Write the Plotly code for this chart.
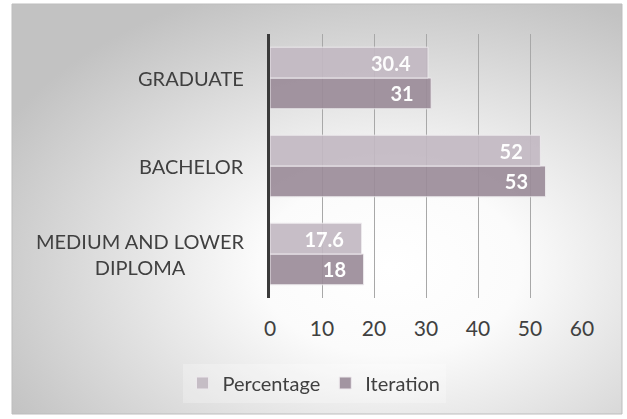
import base64
import plotly.graph_objects as go

categories = ["MEDIUM AND LOWER<br>DIPLOMA", "BACHELOR", "GRADUATE"]
percentage = [17.6, 52, 30.4]
iteration = [18, 53, 31]
x_ticks = [0, 10, 20, 30, 40, 50, 60]

W, H = 627, 419
L, R, T, B = 270, 582, 34, 298
pw, ph = R - L, B - T

def px_x(p):
    return (p - L) / pw

def px_y(p):
    return 1 - (p - T) / ph

svg = """<svg xmlns='http://www.w3.org/2000/svg' width='610' height='410' viewBox='0 0 610 410' preserveAspectRatio='none'>
<defs><radialGradient id='g' cx='0.62' cy='0.64' r='0.72' fx='0.62' fy='0.64'>
<stop offset='0' stop-color='#ffffff'/><stop offset='0.3' stop-color='#fbfbfb'/>
<stop offset='1' stop-color='#c2c2c2'/></radialGradient></defs>
<rect x='0' y='0' width='610' height='410' fill='url(#g)'/></svg>"""
src = "data:image/svg+xml;base64," + base64.b64encode(svg.encode()).decode()

font_main = "Lato, 'Open Sans', sans-serif"

fig = go.Figure()
fig.add_trace(go.Bar(
    y=categories, x=iteration, name="Iteration", orientation="h",
    marker=dict(color="#9b8c99", line=dict(color="#ece8ec", width=1)),
    opacity=0.92,
    text=iteration, texttemplate="%{x}\u00a0\u00a0\u00a0", textposition="inside",
    insidetextanchor="end", textangle=0,
    textfont=dict(color="white", size=20, family=font_main, weight="bold"),
))
fig.add_trace(go.Bar(
    y=categories, x=percentage, name="Percentage", orientation="h",
    marker=dict(color="#c2b9c2", line=dict(color="#ece8ec", width=1)),
    opacity=0.92,
    text=percentage, texttemplate="%{x}\u00a0\u00a0\u00a0", textposition="inside",
    insidetextanchor="end", textangle=0,
    textfont=dict(color="white", size=20, family=font_main, weight="bold"),
))

annotations = []
for c in categories:
    annotations.append(dict(
        x=px_x(246), xref="paper", y=c, yref="y", text=c, showarrow=False,
        xanchor="right", yanchor="middle", align="center",
        font=dict(size=20, color="#404040", family=font_main),
    ))

fig.update_layout(
    width=W, height=H,
    margin=dict(l=L, r=W - R, t=T, b=H - B),
    paper_bgcolor="white", plot_bgcolor="rgba(0,0,0,0)",
    barmode="group", bargap=0.3, bargroupgap=0.0,
    font=dict(family=font_main, color="#404040"),
    showlegend=True,
    legend=dict(
        orientation="h", traceorder="reversed",
        xref="container", yref="container",
        x=314 / W, y=1 - 383 / H, xanchor="center", yanchor="middle",
        font=dict(size=20, color="#404040", family=font_main),
        bgcolor="rgba(255,255,255,0.25)",
        itemwidth=30,
    ),
    images=[dict(
        source=src, xref="paper", yref="paper",
        x=px_x(12), y=px_y(4), sizex=610 / pw, sizey=410 / ph,
        xanchor="left", yanchor="top", sizing="stretch", layer="below",
    )],
    shapes=[dict(
        type="rect", xref="paper", yref="paper",
        x0=px_x(12), x1=px_x(622), y0=px_y(4), y1=px_y(414),
        line=dict(color="#bdbdbd", width=1), fillcolor="rgba(0,0,0,0)", layer="below",
    )],
    annotations=annotations,
)
fig.update_xaxes(
    range=[0, 60], tickvals=x_ticks, ticktext=[str(v) for v in x_ticks],
    showgrid=True, gridcolor="#a8a8a8", gridwidth=1, zeroline=False,
    showline=False, ticks="", ticklabelstandoff=16,
    tickfont=dict(size=21, color="#404040", family=font_main),
    fixedrange=True,
)
fig.update_yaxes(
    showticklabels=False, showgrid=False, showline=True,
    linecolor="#3a3a3a", linewidth=3, ticks="", fixedrange=True,
)

fig.write_html("out.html")
